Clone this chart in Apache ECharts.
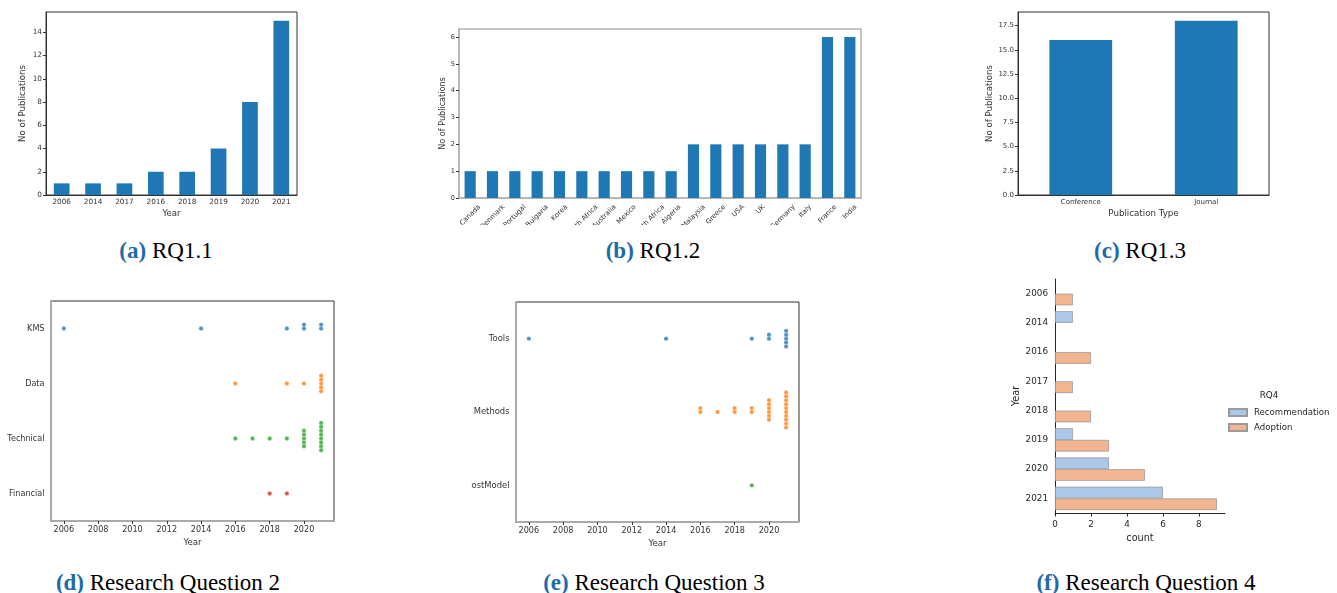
<!DOCTYPE html>
<html lang="en">
<head>
<meta charset="UTF-8">
<title>RQ figures</title>
<style>
  html, body { margin: 0; padding: 0; width: 1337px; height: 593px; overflow: hidden; background: #fff; }
  .panel { position: absolute; overflow: hidden; }
  .cap { position: absolute; transform: translate(-50%, -50%); font-family: 'Liberation Serif', serif; font-size: 23px; color: #000; white-space: nowrap; }
  .cap b { color: #1f6aa8; }
</style>
</head>
<body>
<div id="pa" class="panel" style="left:0;top:0;width:330px;height:228px"></div>
<div id="pb" class="panel" style="left:420px;top:0;width:460px;height:225px"></div>
<div id="pc" class="panel" style="left:970px;top:0;width:367px;height:228px"></div>
<div id="pd" class="panel" style="left:0;top:270px;width:345px;height:290px"></div>
<div id="pe" class="panel" style="left:471px;top:270px;width:339px;height:290px"></div>
<div id="pf" class="panel" style="left:1000px;top:270px;width:337px;height:290px"></div>

<div class="cap" style="left:166px;top:251px"><b>(a)</b> RQ1.1</div>
<div class="cap" style="left:653px;top:251px"><b>(b)</b> RQ1.2</div>
<div class="cap" style="left:1140px;top:251px"><b>(c)</b> RQ1.3</div>
<div class="cap" style="left:168px;top:583px"><b>(d)</b> Research Question 2</div>
<div class="cap" style="left:654px;top:583px"><b>(e)</b> Research Question 3</div>
<div class="cap" style="left:1146px;top:583px"><b>(f)</b> Research Question 4</div>

<script src="https://cdn.jsdelivr.net/npm/echarts@6.0.0/dist/echarts.min.js"></script>
<script>
    // RQ1.1 - publications per year (pandas order)
    const rq11Years = ['2006', '2014', '2017', '2016', '2018', '2019', '2020', '2021'];
    const rq11Counts = [1, 1, 1, 2, 2, 4, 8, 15];
    const rq11Ticks = [0, 2, 4, 6, 8, 10, 12, 14];

    // RQ1.2 - publications per country
    const rq12Countries = ['Canada', 'Denmark', 'Portugal', 'Bulgaria', 'Korea', 'South Africa', 'Australia', 'Mexico',
        'North Africa', 'Algeria', 'Malaysia', 'Greece', 'USA', 'UK', 'Germany', 'Italy', 'France', 'India'];
    const rq12Counts = [1, 1, 1, 1, 1, 1, 1, 1, 1, 1, 2, 2, 2, 2, 2, 2, 6, 6];
    const rq12Ticks = [0, 1, 2, 3, 4, 5, 6];

    // RQ1.3 - publication type
    const rq13Types = ['Conference', 'Journal'];
    const rq13Counts = [16, 18];
    const rq13Ticks = [0, 2.5, 5, 7.5, 10, 12.5, 15, 17.5];

    // RQ2 / RQ3 - papers per year and category (swarm plots)
    const years = [2006, 2014, 2016, 2017, 2018, 2019, 2020, 2021];
    const yearTicks = [2006, 2008, 2010, 2012, 2014, 2016, 2018, 2020];
    const rq2Cats = ['KMS', 'Data', 'Technical', 'Financial'];
    const rq2KMS = [1, 1, 0, 0, 0, 1, 2, 2];
    const rq2Data = [0, 0, 1, 0, 0, 1, 1, 5];
    const rq2Technical = [0, 0, 1, 1, 1, 1, 5, 8];
    const rq2Financial = [0, 0, 0, 0, 1, 1, 0, 0];
    const rq3Cats = ['Tools', 'Methods', 'CostModel'];
    const rq3Tools = [1, 1, 0, 0, 0, 1, 2, 5];
    const rq3Methods = [0, 0, 2, 1, 2, 2, 6, 10];
    const rq3CostModel = [0, 0, 0, 0, 0, 1, 0, 0];

    // RQ4 - recommendation vs adoption
    const rq4Years = ['2006', '2014', '2016', '2017', '2018', '2019', '2020', '2021'];
    const rq4Recommendation = [0, 1, 0, 0, 0, 1, 3, 6];
    const rq4Adoption = [1, 0, 2, 1, 2, 3, 5, 9];
    const rq4Ticks = [0, 2, 4, 6, 8];

    const font = 'DejaVu Sans';
    const ink = '#333';
    const tab10 = ['#1f77b4', '#ff7f0e', '#2ca02c', '#d62728'];

    function txt(size, color) {
        return { fontFamily: font, fontSize: size, color: color || ink };
    }
    function line(color, width) {
        return { show: true, lineStyle: { color: color, width: width } };
    }
    // axis title placed at a fixed gap (v6 would otherwise push it away from the labels)
    function axisName(text, gap, size, color) {
        return { name: text, nameLocation: 'middle', nameGap: gap, nameMoveOverlap: false, nameTextStyle: txt(size, color) };
    }
    // fixed plot boxes, labels may spill over (and get cut) like the original figure
    function box(left, top, width, height, border, borderWidth) {
        return {
            left: left, top: top, width: width, height: height, outerBoundsMode: 'none', containLabel: false,
            show: !!border, borderColor: border || 'transparent', borderWidth: borderWidth || 0
        };
    }

    // ---------- (a) ----------
    echarts.init(document.getElementById('pa')).setOption({
        animation: false,
        grid: box(46, 12, 251, 183, ink, 1),
        xAxis: Object.assign({
            type: 'category', data: rq11Years,
            axisLine: line(ink, 1),
            axisTick: { alignWithLabel: true, length: 3, lineStyle: { color: ink } },
            axisLabel: Object.assign({ margin: 4 }, txt(7.3))
        }, axisName('Year', 14, 8.6)),
        yAxis: Object.assign({
            type: 'value', min: 0, max: 15.75, splitLine: { show: false },
            axisLine: line(ink, 1),
            axisTick: { show: true, length: 3, customValues: rq11Ticks, lineStyle: { color: ink } },
            axisLabel: Object.assign({ margin: 4, customValues: rq11Ticks }, txt(7.3))
        }, axisName('No of Publications', 19, 8.6)),
        series: [{ type: 'bar', data: rq11Counts, barCategoryGap: '50%', itemStyle: { color: tab10[0] } }]
    });

    // ---------- (b) ----------
    // matplotlib centres rotated labels on the tick, so each label is pushed down by its own length
    const ctx = document.createElement('canvas').getContext('2d');
    const bSize = 6.9;
    ctx.font = bSize + 'px "DejaVu Sans"';
    const bRich = {};
    rq12Countries.forEach(function (name, i) {
        const p = (ctx.measureText(name).width + bSize * 1.2) / 2;
        bRich['c' + i] = { fontFamily: font, fontSize: bSize, color: ink, padding: [p, p, 0, 0] };
    });
    const grayLine = '#b4b4b4';
    echarts.init(document.getElementById('pb')).setOption({
        animation: false,
        grid: box(39, 29, 402, 169, grayLine, 1.6),
        xAxis: {
            type: 'category', data: rq12Countries,
            axisLine: line(grayLine, 1.6),
            axisTick: { alignWithLabel: true, length: 3, lineStyle: { color: ink } },
            axisLabel: Object.assign({
                margin: 5, rotate: 45, align: 'center', verticalAlign: 'middle', interval: 0, rich: bRich,
                formatter: function (v, i) { return '{c' + i + '|' + v + '}'; }
            }, txt(bSize))
        },
        yAxis: Object.assign({
            type: 'value', min: 0, max: 6.3, splitLine: { show: false },
            axisLine: line(grayLine, 1.6),
            axisTick: { show: true, length: 3, customValues: rq12Ticks, lineStyle: { color: ink } },
            axisLabel: Object.assign({ margin: 4, customValues: rq12Ticks }, txt(6.6))
        }, axisName('No of Publications', 12, 8.1)),
        series: [{ type: 'bar', data: rq12Counts, barCategoryGap: '50%', itemStyle: { color: tab10[0] } }]
    });

    // ---------- (c) ----------
    echarts.init(document.getElementById('pc')).setOption({
        animation: false,
        grid: box(48, 12, 251, 183, ink, 1),
        xAxis: Object.assign({
            type: 'category', data: rq13Types,
            axisLine: line(ink, 1),
            axisTick: { alignWithLabel: true, length: 3, lineStyle: { color: ink } },
            axisLabel: Object.assign({ margin: 4 }, txt(7))
        }, axisName('Publication Type', 14, 8.7)),
        yAxis: Object.assign({
            type: 'value', min: 0, max: 18.9, splitLine: { show: false },
            axisLine: line(ink, 1),
            axisTick: { show: true, length: 3, customValues: rq13Ticks, lineStyle: { color: ink } },
            axisLabel: Object.assign({ margin: 4, customValues: rq13Ticks, formatter: function (v) { return v.toFixed(1); } }, txt(7))
        }, axisName('No of Publications', 24, 8.6)),
        series: [{ type: 'bar', data: rq13Counts, barCategoryGap: '50%', itemStyle: { color: tab10[0] } }]
    });

    // ---------- (d) and (e) swarm plots ----------
    const step = 3.9;
    function swarm(cat, counts, color) {
        const pts = [];
        counts.forEach(function (n, i) {
            for (let k = 0; k < n; k++) {
                const off = k === 0 ? 0 : (k % 2 ? -(k + 1) / 2 : k / 2);
                pts.push({ value: [years[i], cat], symbolOffset: [0, off * step] });
            }
        });
        return {
            type: 'scatter', data: pts, symbolSize: 4.4,
            itemStyle: { color: color, borderColor: '#fff', borderWidth: 0.4 }
        };
    }
    function swarmOption(left, top, cats, groups, catSize) {
        return {
            animation: false,
            grid: box(left, top, 283, 220, ink, 1),
            xAxis: Object.assign({
                type: 'value', min: 2005.25, max: 2021.75, splitLine: { show: false },
                axisLine: line('#aaa', 2),
                axisTick: { show: true, length: 3, customValues: yearTicks, lineStyle: { color: ink } },
                axisLabel: Object.assign({ margin: 5, customValues: yearTicks, formatter: function (v) { return String(v); } }, txt(8.1))
            }, axisName('Year', 17, 8.6)),
            yAxis: {
                type: 'category', data: cats, inverse: true,
                axisLine: line('#aaa', 2),
                axisTick: { alignWithLabel: true, length: 3, lineStyle: { color: ink } },
                axisLabel: Object.assign({ margin: 6.5 }, txt(catSize))
            },
            series: groups.map(function (g, i) { return swarm(cats[i], g, tab10[i]); })
        };
    }
    echarts.init(document.getElementById('pd')).setOption(
        swarmOption(51, 31, rq2Cats, [rq2KMS, rq2Data, rq2Technical, rq2Financial], 8.1));
    echarts.init(document.getElementById('pe')).setOption(
        swarmOption(45, 32, rq3Cats, [rq3Tools, rq3Methods, rq3CostModel], 8.4));

    // ---------- (f) ----------
    const fInk = '#262626';
    function noZero(v) { return v === 0 ? '-' : v; }
    echarts.init(document.getElementById('pf')).setOption({
        animation: false,
        grid: box(55, 9, 170, 234),
        legend: {
            orient: 'vertical', left: 228, top: 137, padding: 0,
            itemWidth: 18, itemHeight: 7, itemGap: 4, icon: 'rect',
            textStyle: Object.assign({ lineHeight: 11, padding: [0, 0, 0, 2] }, txt(8.6, fInk)),
            data: ['Recommendation', 'Adoption']
        },
        graphic: [{
            type: 'text', x: 269, y: 126,
            style: { text: 'RQ4', fontFamily: font, fontSize: 8.8, fill: fInk, textAlign: 'center', textVerticalAlign: 'middle' }
        }],
        xAxis: Object.assign({
            type: 'value', min: 0, max: 9.45, splitLine: { show: false },
            axisLine: line(fInk, 1),
            axisTick: { show: true, length: 3.5, customValues: rq4Ticks, lineStyle: { color: fInk } },
            axisLabel: Object.assign({ margin: 7, customValues: rq4Ticks }, txt(8.8, fInk))
        }, axisName('count', 20, 9.7, fInk)),
        yAxis: Object.assign({
            type: 'category', data: rq4Years, inverse: true,
            axisLine: line(fInk, 1),
            axisTick: { alignWithLabel: true, length: 3.5, lineStyle: { color: fInk } },
            axisLabel: Object.assign({ margin: 7 }, txt(8.8, fInk))
        }, axisName('Year', 34, 9.7, fInk)),
        series: [
            {
                name: 'Recommendation', type: 'bar', data: rq4Recommendation.map(noZero),
                barCategoryGap: '20%', barGap: '0%',
                itemStyle: { color: '#abc8ea', borderColor: '#9a9a9a', borderWidth: 0.8 }
            },
            {
                name: 'Adoption', type: 'bar', data: rq4Adoption.map(noZero),
                barCategoryGap: '20%', barGap: '0%',
                itemStyle: { color: '#f3b590', borderColor: '#9a9a9a', borderWidth: 0.8 }
            }
        ]
    });
</script>
</body>
</html>
